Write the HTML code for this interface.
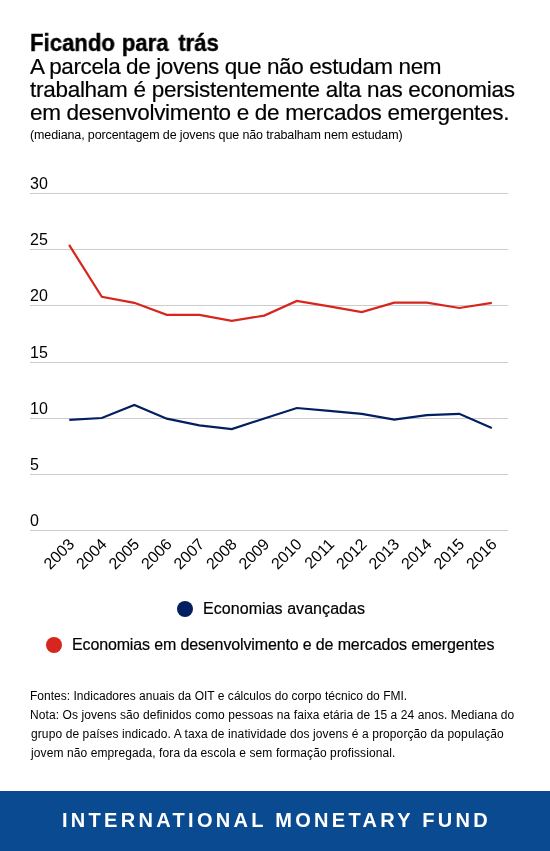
<!DOCTYPE html>
<html><head><meta charset="utf-8">
<style>
html,body{margin:0;padding:0;background:#fff;}
body{width:550px;height:851px;position:relative;overflow:hidden;font-family:"Liberation Sans",sans-serif;color:#000;}
.sub,.leg{-webkit-text-stroke:0.2px #000;}
.t{position:absolute;white-space:nowrap;line-height:1;will-change:transform;}
#title{left:30.1px;top:31.2px;font-size:23.8px;font-weight:bold;letter-spacing:0px;word-spacing:1px;transform:scaleX(0.93);transform-origin:0 0;-webkit-text-stroke:0.4px #000;}
.sub{font-size:22.5px;left:30px;}
#note{left:30px;font-size:12.5px;}
.leg{font-size:16px;}
.foot{font-size:12px;left:31px;}
#band{position:absolute;left:0;top:791px;width:550px;height:60px;background:#0a4a91;}
#imf{position:absolute;left:62.2px;top:809.6px;color:#fff;font-weight:bold;font-size:20px;letter-spacing:3.3px;white-space:nowrap;line-height:1;will-change:transform;}
svg{position:absolute;left:0;top:0;will-change:transform;}
</style></head><body>
<div class="t" id="title">Ficando para <span style="margin-left:2.7px">trás</span></div>
<div class="t sub" id="s1" style="top:56.0px;left:30px;letter-spacing:-0.395px">A parcela de jovens que não estudam nem</div>
<div class="t sub" id="s2" style="top:78.6px;left:30px;letter-spacing:-0.28px">trabalham é persistentemente alta nas economias</div>
<div class="t sub" id="s3" style="top:101.5px;left:29.5px;letter-spacing:-0.31px">em desenvolvimento e de mercados emergentes.</div>
<div class="t" id="note" style="top:128.6px;left:29.8px;letter-spacing:-0.122px">(mediana, porcentagem de jovens que não trabalham nem estudam)</div>

<svg width="550" height="851" viewBox="0 0 550 851">
  <g stroke="#cccccc" stroke-width="1">
    <line x1="30" y1="193.5" x2="508" y2="193.5"/>
    <line x1="30" y1="249.5" x2="508" y2="249.5"/>
    <line x1="30" y1="305.5" x2="508" y2="305.5"/>
    <line x1="30" y1="362.5" x2="508" y2="362.5"/>
    <line x1="30" y1="418.5" x2="508" y2="418.5"/>
    <line x1="30" y1="474.5" x2="508" y2="474.5"/>
    <line x1="30" y1="530.5" x2="508" y2="530.5"/>
  </g>
  <g font-family="Liberation Sans" font-size="16" fill="#000">
    <text x="30" y="189">30</text>
    <text x="30" y="245">25</text>
    <text x="30" y="301">20</text>
    <text x="30" y="358">15</text>
    <text x="30" y="414">10</text>
    <text x="30" y="470">5</text>
    <text x="30" y="526">0</text>
  </g>
  <polyline fill="none" stroke="#d7261e" stroke-width="2.2" stroke-linejoin="miter"
    points="69.1,244.9 101.8,296.8 134.3,302.8 166.8,314.8 199.3,314.8 231.8,320.8 264.3,315.6 296.8,300.9 329.3,306.4 361.8,312.0 394.3,302.7 426.8,302.7 459.3,308.0 491.8,302.9"/>
  <polyline fill="none" stroke="#021f60" stroke-width="2.2" stroke-linejoin="miter"
    points="69.3,419.8 101.8,418.0 134.3,405.0 166.8,418.7 199.3,425.3 231.8,429.1 264.3,418.5 296.8,408.0 329.3,410.9 361.8,413.8 394.3,419.7 426.8,415.1 459.3,413.8 491.8,428.0"/>
  <g font-family="Liberation Sans" font-size="16" fill="#000" text-anchor="end">
    <text transform="translate(75.4,545.2) rotate(-45)">2003</text>
    <text transform="translate(107.9,545.2) rotate(-45)">2004</text>
    <text transform="translate(140.4,545.2) rotate(-45)">2005</text>
    <text transform="translate(172.9,545.2) rotate(-45)">2006</text>
    <text transform="translate(205.4,545.2) rotate(-45)">2007</text>
    <text transform="translate(237.9,545.2) rotate(-45)">2008</text>
    <text transform="translate(270.4,545.2) rotate(-45)">2009</text>
    <text transform="translate(302.9,545.2) rotate(-45)">2010</text>
    <text transform="translate(335.4,545.2) rotate(-45)">2011</text>
    <text transform="translate(367.9,545.2) rotate(-45)">2012</text>
    <text transform="translate(400.4,545.2) rotate(-45)">2013</text>
    <text transform="translate(432.9,545.2) rotate(-45)">2014</text>
    <text transform="translate(465.4,545.2) rotate(-45)">2015</text>
    <text transform="translate(497.9,545.2) rotate(-45)">2016</text>
  </g>
  <circle cx="185" cy="609" r="8" fill="#021f60"/>
  <circle cx="54" cy="645" r="8" fill="#d7261e"/>
</svg>

<div class="t leg" id="l1" style="left:202.6px;top:600.7px;letter-spacing:0.056px">Economias avançadas</div>
<div class="t leg" id="l2" style="left:72px;top:637px;letter-spacing:-0.138px">Economias em desenvolvimento e de mercados emergentes</div>

<div class="t foot" id="f1" style="top:690px;left:29.7px;letter-spacing:0.018px">Fontes: Indicadores anuais da OIT e cálculos do corpo técnico do FMI.</div>
<div class="t foot" id="f2" style="top:709.1px;left:29.7px;letter-spacing:0.078px">Nota: Os jovens são definidos como pessoas na faixa etária de 15 a 24 anos. Mediana do</div>
<div class="t foot" id="f3" style="top:728.0px;left:30.6px;letter-spacing:0.1px">grupo de países indicado. A taxa de inatividade dos jovens é a proporção da população</div>
<div class="t foot" id="f4" style="top:746.5px;left:30.9px;letter-spacing:0.097px">jovem não empregada, fora da escola e sem formação profissional.</div>

<div id="band"></div>
<div id="imf">INTERNATIONAL MONETARY FUND</div>
</body></html>
